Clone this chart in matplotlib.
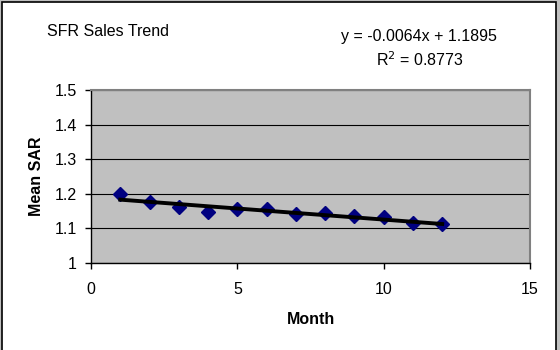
import numpy as np
import matplotlib.pyplot as plt
from matplotlib.patches import Rectangle

plt.rcParams['font.family'] = ['Liberation Sans', 'DejaVu Sans']

# Monthly mean SAR values
months = [1, 2, 3, 4, 5, 6, 7, 8, 9, 10, 11, 12]
mean_sar = [1.200, 1.175, 1.163, 1.146, 1.156, 1.157,
            1.142, 1.144, 1.137, 1.133, 1.117, 1.113]

# Linear trendline coefficients
slope = -0.0064
intercept = 1.1895
r_squared = 0.8773

x_ticks = [0, 5, 10, 15]
y_ticks = [1.0, 1.1, 1.2, 1.3, 1.4, 1.5]
y_tick_labels = ["1", "1.1", "1.2", "1.3", "1.4", "1.5"]

FS = 11.5

fig = plt.figure(figsize=(5.6, 3.5), dpi=100)
fig.patch.set_facecolor('#c0c0c0')
# white chart area with a thin black frame, behind the axes
frame = Rectangle((2/560, -0.05), 554/560, 1.05 - 2/350,
                  transform=fig.transFigure, facecolor='white',
                  edgecolor='black', linewidth=1.2, zorder=-5)
fig.add_artist(frame)

ax = fig.add_axes([91/560, 1 - 263/350, (530 - 91)/560, (263 - 90)/350])
ax.set_facecolor('#c0c0c0')

ax.plot(months, mean_sar, linestyle='none', marker='D', markersize=7,
        color='#000080', zorder=3)

trend_x = np.array([months[0], months[-1]])
ax.plot(trend_x, slope * trend_x + intercept, color='black', linewidth=2.8, zorder=4)

ax.set_xlim(0, 15)
ax.set_ylim(1.0, 1.5)
ax.set_xticks(x_ticks)
ax.set_xticklabels([str(t) for t in x_ticks])
ax.set_yticks(y_ticks)
ax.set_yticklabels(y_tick_labels)
ax.grid(axis='y', color='black', linewidth=0.8)
ax.set_axisbelow(True)

for side in ['top', 'right']:
    ax.spines[side].set_color('#808080')
    ax.spines[side].set_linewidth(1.5)
for side in ['left', 'bottom']:
    ax.spines[side].set_color('black')
    ax.spines[side].set_linewidth(1.0)

ax.tick_params(direction='out', length=4, width=1, labelsize=FS, colors='black', pad=6)
ax.tick_params(axis='x', pad=10)

ax.set_xlabel('Month', fontsize=FS, fontweight='bold', labelpad=10.5)
ax.set_ylabel('Mean SAR', fontsize=FS, fontweight='bold', labelpad=8)

fig.text(47/560, 1 - 31/350, 'SFR Sales Trend', fontsize=FS, va='center', ha='left')
fig.text(419/560, 1 - 36/350, 'y = -0.0064x + 1.1895', fontsize=FS, va='center', ha='center')
fig.text(420/560, 1 - 60/350, r'R$^2$ = %.4f' % r_squared, fontsize=FS, va='center', ha='center')

fig.savefig('out.png', dpi=100, facecolor=fig.get_facecolor())
